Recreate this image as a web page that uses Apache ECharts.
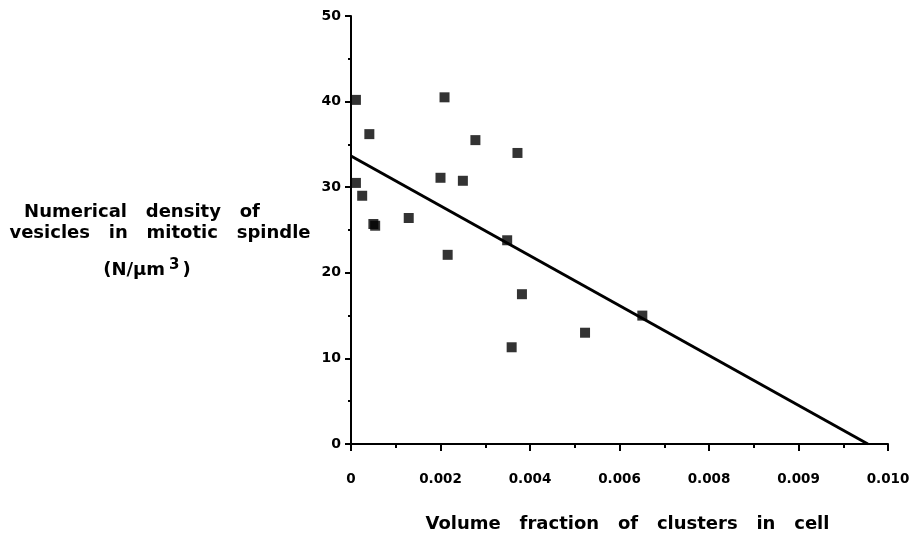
<!DOCTYPE html>
<html>
<head>
<meta charset="utf-8">
<title>Vesicle density vs cluster volume fraction</title>
<script src="https://cdn.jsdelivr.net/npm/echarts@6/dist/echarts.min.js"></script>
<style>
  html, body { margin: 0; padding: 0; background: #fff; }
  #chart { width: 913px; height: 540px; }
</style>
</head>
<body>
<div id="chart"></div>
<script>
// points
var volumeFraction = [0.00011, 0.00209, 0.00041, 0.00278, 0.00011, 0.00025, 0.0020, 0.0025,
                      0.0005, 0.00054, 0.00129, 0.00216, 0.00372, 0.00349, 0.00382, 0.00523,
                      0.00359, 0.00651];
var density = [40.2, 40.5, 36.2, 35.5, 30.5, 29.0, 31.1, 30.75,
               25.7, 25.5, 26.4, 22.1, 34.0, 23.8, 17.5, 13.0,
               11.3, 15.0];

// regression line end points
var fitX = [0, 0.01155];
var fitY = [33.65, 0];

// tick labels as printed in the original (sic)
var xTickLabels = ['0', '0.002', '0.004', '0.006', '0.008', '0.009', '0.010'];
var yTickLabels = ['0', '10', '20', '30', '40', '50'];

var FONT = '"DejaVu Sans", Verdana, sans-serif';

var points = [];
for (var i = 0; i < volumeFraction.length; i++) {
	points.push([volumeFraction[i], density[i]]);
}
var fitLine = [];
for (var j = 0; j < fitX.length; j++) {
	fitLine.push([fitX[j], fitY[j]]);
}

function titleLine(x, y, text) {
	return {
		type: 'text',
		x: x,
		y: y,
		style: {
			text: text,
			align: 'center',
			verticalAlign: 'middle',
			fill: '#000',
			fontFamily: FONT,
			fontWeight: 'bold',
			fontSize: 18,
			rich: {
				s: { fontFamily: FONT, fontWeight: 'bold', fontSize: 15, padding: [0, 3, 10, 4] }
			}
		}
	};
}

var chart = echarts.init(document.getElementById('chart'));

chart.setOption({
	animation: false,
	backgroundColor: '#fff',
	grid: { left: 351, right: 25, top: 16, bottom: 96 },
	xAxis: {
		type: 'value',
		min: 0,
		max: 0.012,
		interval: 0.002,
		name: 'Volume   fraction   of   clusters   in   cell',
		nameLocation: 'middle',
		nameGap: 71,
		nameTextStyle: {
			color: '#000', fontFamily: FONT, fontWeight: 'bold', fontSize: 18,
			padding: [0, 0, 0, 16]
		},
		axisLine: { lineStyle: { color: '#000', width: 2 } },
		axisTick: { length: 7, lineStyle: { color: '#000', width: 2 } },
		minorTick: { show: true, splitNumber: 2, length: 4, lineStyle: { color: '#000', width: 2 } },
		splitLine: { show: false },
		axisLabel: {
			margin: 28,
			color: '#000', fontFamily: FONT, fontWeight: 'bold', fontSize: 13.5,
			formatter: function (v) {
				return xTickLabels[Math.round(v / 0.002)];
			}
		}
	},
	yAxis: {
		type: 'value',
		min: 0,
		max: 50,
		interval: 10,
		axisLine: { show: true, lineStyle: { color: '#000', width: 2 } },
		axisTick: { show: true, length: 6, lineStyle: { color: '#000', width: 2 } },
		minorTick: { show: true, splitNumber: 2, length: 3, lineStyle: { color: '#000', width: 2 } },
		splitLine: { show: false },
		axisLabel: {
			margin: 10,
			color: '#000', fontFamily: FONT, fontWeight: 'bold', fontSize: 14,
			formatter: function (v) {
				return yTickLabels[Math.round(v / 10)];
			}
		}
	},
	graphic: [
		titleLine(142, 212, 'Numerical   density   of'),
		titleLine(160, 233, 'vesicles   in   mitotic   spindle'),
		titleLine(147, 270, '(N/\u03bcm{s|3})')
	],
	series: [{
		type: 'scatter',
		data: points,
		symbol: 'rect',
		symbolSize: 10,
		itemStyle: { color: '#000' }
	}, {
		type: 'line',
		data: fitLine,
		symbol: 'none',
		lineStyle: { color: '#000', width: 3 }
	}]
});
</script>
</body>
</html>
